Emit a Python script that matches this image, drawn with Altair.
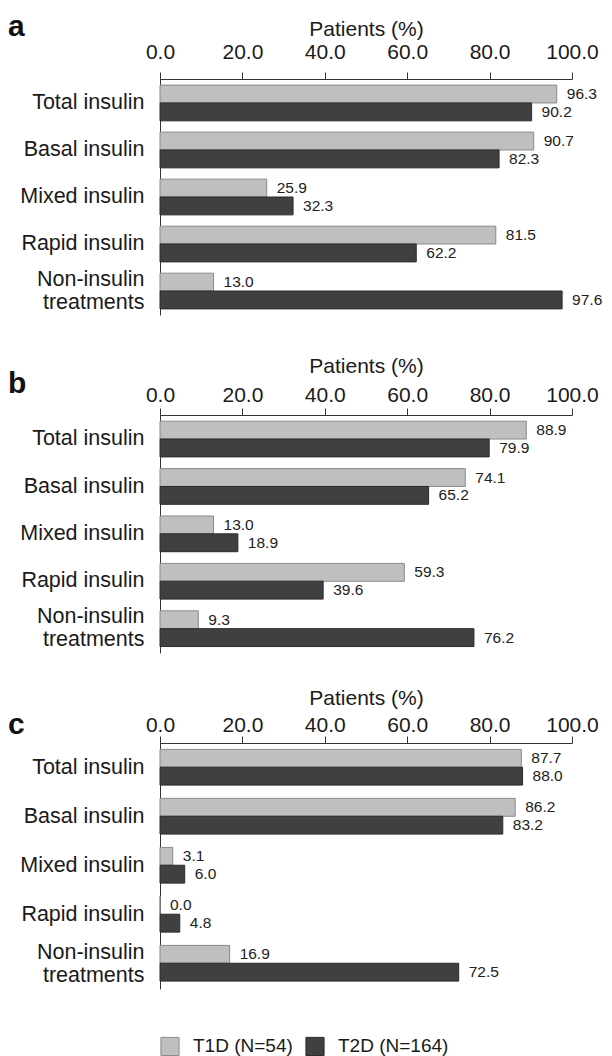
import altair as alt
import pandas as pd

categories = ["Total insulin", "Basal insulin", "Mixed insulin", "Rapid insulin", "Non-insulin treatments"]
series = ["T1D (N=54)", "T2D (N=164)"]
panel_a_t1d = [96.3, 90.7, 25.9, 81.5, 13.0]
panel_a_t2d = [90.2, 82.3, 32.3, 62.2, 97.6]
panel_b_t1d = [88.9, 74.1, 13.0, 59.3, 9.3]
panel_b_t2d = [79.9, 65.2, 18.9, 39.6, 76.2]
panel_c_t1d = [87.7, 86.2, 3.1, 0.0, 16.9]
panel_c_t2d = [88.0, 83.2, 6.0, 4.8, 72.5]
x_ticks = [0, 20, 40, 60, 80, 100]
panel_letters = ["a", "b", "c"]
fill_colors = ["#bfbfbf", "#404040"]
stroke_colors = ["#8a8a8a", "#2b2b2b"]

FONT = "Liberation Sans"
W = 412
TWO_LINE = "Non-insulin treatments"


def panel(letter, t1d, t2d, height, label_pad, title_pad, letter_y):
    df = pd.DataFrame({
        "category": categories * 2,
        "series": [series[0]] * len(categories) + [series[1]] * len(categories),
        "value": t1d + t2d,
    })
    x = alt.X(
        "value:Q",
        scale=alt.Scale(domain=[0, 100], nice=False, zero=True),
        axis=alt.Axis(
            orient="top", values=x_ticks, format=".1f", title="Patients (%)",
            titleFontSize=21, titleFontWeight="normal", titleFont=FONT, titleColor="#1a1a1a",
            titlePadding=title_pad,
            labelFontSize=21, labelFont=FONT, labelColor="#1a1a1a", labelPadding=label_pad,
            labelFlush=False, labelOverlap=False,
            tickSize=7, tickColor="#333333", domainColor="#333333", grid=False,
        ),
    )
    y = alt.Y(
        "category:N", sort=categories,
        scale=alt.Scale(paddingInner=0.24, paddingOuter=0.13),
        axis=alt.Axis(
            title=None, ticks=False, labelFontSize=21.5, labelFont=FONT, labelColor="#1a1a1a",
            labelPadding=16, labelLineHeight=23, domainColor="#333333",
            labelOffset={"condition": {"test": f"datum.value == '{TWO_LINE}'", "value": -11.5}, "value": 0},
            labelExpr=f"datum.label == '{TWO_LINE}' ? ['Non-insulin', 'treatments'] : datum.label",
        ),
    )
    y_off = alt.YOffset("series:N", sort=series, scale=alt.Scale(paddingInner=0, paddingOuter=0))
    base = alt.Chart(df)
    bars = base.mark_bar(strokeWidth=1).encode(
        x=x, y=y, yOffset=y_off,
        color=alt.Color(
            "series:N", sort=series,
            scale=alt.Scale(domain=series, range=fill_colors),
            legend=alt.Legend(title=None),
        ),
        stroke=alt.Stroke("series:N", scale=alt.Scale(domain=series, range=stroke_colors), legend=None),
    )
    labels = base.mark_text(align="left", baseline="middle", dx=10, fontSize=15.5, font=FONT, color="#222222").encode(
        x="value:Q", y=alt.Y("category:N", sort=categories), yOffset=alt.YOffset("series:N", sort=series),
        text=alt.Text("value:Q", format=".1f"),
    )
    tag = alt.Chart(pd.DataFrame({"letter": [letter]})).mark_text(
        align="left", baseline="top", fontSize=30, fontWeight="bold", font=FONT, color="#111111"
    ).encode(text="letter:N", x=alt.value(-152), y=alt.value(letter_y))
    return alt.layer(bars, labels, tag).properties(width=W, height=height)


pa = panel(panel_letters[0], panel_a_t1d, panel_a_t2d, 236, 10, 2, -67)
pb = panel(panel_letters[1], panel_b_t1d, panel_b_t2d, 238, 3, 8, -46)
pc = panel(panel_letters[2], panel_c_t1d, panel_c_t2d, 246, 1, 6, -33)

chart = alt.vconcat(alt.vconcat(pa, pb, spacing=40), pc, spacing=34).properties(
    padding={"left": 0, "top": 4, "right": 0, "bottom": 0}
).configure_view(stroke=None).configure_legend(
    orient="bottom", direction="horizontal", symbolType="square", symbolSize=330,
    symbolStrokeColor="#666666", symbolStrokeWidth=1,
    labelFontSize=19, labelFont=FONT, labelColor="#1a1a1a", labelOffset=13,
    columnPadding=10, offset=47,
)

chart.save("out.html", embed_options={"renderer": "svg", "actions": False})
